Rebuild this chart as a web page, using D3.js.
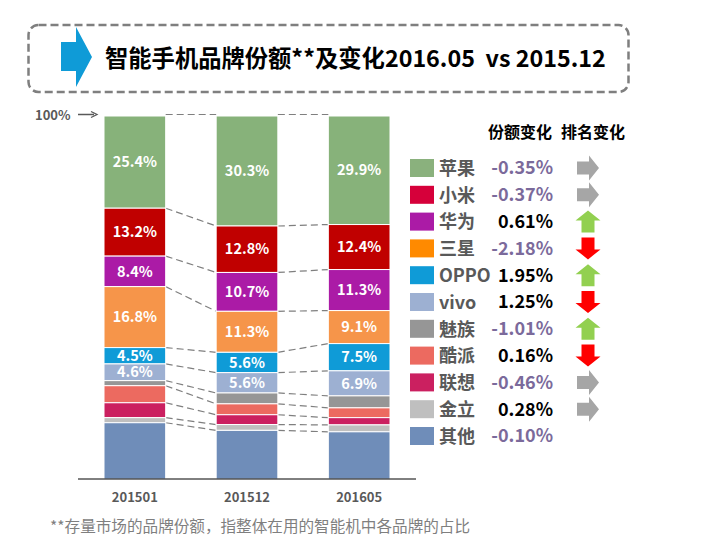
<!DOCTYPE html>
<html>
<head>
<meta charset="utf-8">
<script src="https://cdn.jsdelivr.net/npm/d3@7"></script>
<style>
  html, body { margin: 0; padding: 0; background: #fff; }
  text { font-family: "Noto Sans CJK SC", "Noto Sans", sans-serif; }
</style>
</head>
<body>
<div id="chart"></div>
<script>
// chart data
const periods = ["201501", "201512", "201605"]
const brands = ["苹果", "小米", "华为", "三星", "OPPO", "vivo", "魅族", "酷派", "联想", "金立", "其他"]
const share201501 = [25.4, 13.2, 8.4, 16.8, 4.5, 4.6, 1.4, 4.7, 4.1, 1.4, 15.5]
const share201512 = [30.3, 12.8, 10.7, 11.3, 5.6, 5.6, 3.0, 3.0, 2.7, 1.6, 13.4]
const share201605 = [29.9, 12.4, 11.3, 9.1, 7.5, 6.9, 3.3, 2.7, 2.0, 1.9, 13.0]
const labelledBrands = ["苹果", "小米", "华为", "三星", "OPPO", "vivo"]
const shareChange = ["-0.35%", "-0.37%", "0.61%", "-2.18%", "1.95%", "1.25%", "-1.01%", "0.16%", "-0.46%", "0.28%", "-0.10%"]
const rankChange = ["same", "same", "up", "down", "up", "down", "up", "down", "same", "same", null]

const title = "智能手机品牌份额**及变化2016.05  vs 2015.12"
const footnote = "**存量市场的品牌份额，指整体在用的智能机中各品牌的占比"

// colours (bars and legend swatches differ a little in the picture)
const barColors = ["#87B27A", "#C00000", "#AB1BA6", "#F6954A", "#0F9BD7", "#9DB0D2", "#969696", "#EC6A60", "#CB2060", "#BFBFBF", "#6F8DB9"]
const swatchColors = ["#8AB17D", "#D6003A", "#AB1BA6", "#FF8A00", "#0F9BD7", "#9DB0D2", "#969696", "#EC6A60", "#CB2060", "#BFBFBF", "#6F8DB9"]

const width = 708
const height = 555

const svg = d3.select("#chart")
  .append("svg")
  .attr("width", width)
  .attr("height", height)
  .style("display", "block")

// title box
svg.append("rect")
  .attr("x", 28.5)
  .attr("y", 25)
  .attr("width", 600)
  .attr("height", 67)
  .attr("rx", 10)
  .attr("fill", "none")
  .attr("stroke", "#7F7F7F")
  .attr("stroke-width", 2.5)
  .attr("stroke-dasharray", "8 4")

svg.append("path")
  .attr("d", "M61,42H76V27L92,57L76,87V71H61Z")
  .attr("fill", "#0F9BD7")

svg.append("text")
  .attr("x", 105)
  .attr("y", 67)
  .attr("font-size", 23.3)
  .attr("font-weight", "bold")
  .attr("fill", "#000")
  .attr("xml:space", "preserve")
  .style("white-space", "pre")
  .text(title)

// scales
const xScale = d3.scaleBand()
  .domain(periods)
  .range([104, 390])
  .paddingInner(0.45)

const yScale = d3.scaleLinear()
  .domain([0, 100])
  .range([479, 116])

// stack the three periods
const rows = periods.map((period, i) => {
  const row = {period}
  const values = [share201501, share201512, share201605][i]
  brands.forEach((b, j) => { row[b] = values[j] })
  return row
})

const series = d3.stack()
  .keys(brands)
  .order(d3.stackOrderReverse)(rows)

const color = d3.scaleOrdinal().domain(brands).range(barColors)

// connecting dashes between the bars
const connectors = svg.append("g")
  .attr("stroke", "#7F7F7F")
  .attr("stroke-width", 1.2)
  .attr("stroke-dasharray", "7 4")

series.forEach(s => {
  d3.pairs(s).forEach(([a, b]) => {
    connectors.append("line")
      .attr("x1", xScale(a.data.period) + xScale.bandwidth())
      .attr("x2", xScale(b.data.period))
      .attr("y1", yScale(a[1]) - (a[1] >= 99.9 ? 1.5 : 0))
      .attr("y2", yScale(b[1]) - (b[1] >= 99.9 ? 1.5 : 0))
  })
})

// bars
const groups = svg.append("g")
  .selectAll("g")
  .data(series)
  .join("g")
  .attr("fill", d => color(d.key))

groups.selectAll("rect")
  .data(d => d)
  .join("rect")
  .attr("x", d => xScale(d.data.period))
  .attr("y", d => yScale(d[1]))
  .attr("width", xScale.bandwidth())
  .attr("height", d => yScale(d[0]) - yScale(d[1]))
  .attr("stroke", "#fff")
  .attr("stroke-width", 1)

// value labels
groups.filter(d => labelledBrands.includes(d.key))
  .selectAll("text")
  .data(d => d.map(p => ({p, key: d.key})))
  .join("text")
  .attr("x", d => xScale(d.p.data.period) + xScale.bandwidth() / 2)
  .attr("y", d => yScale((d.p[0] + d.p[1]) / 2))
  .attr("dy", "0.36em")
  .attr("text-anchor", "middle")
  .attr("font-size", 14.5)
  .attr("font-weight", "bold")
  .attr("fill", "#fff")
  .text(d => d.p.data[d.key].toFixed(1) + "%")

// x axis
const xAxis = d3.axisBottom(xScale).tickSize(0).tickPadding(14)
const xAxisG = svg.append("g")
  .attr("transform", `translate(0, ${yScale(0)})`)
  .call(xAxis)
xAxisG.select(".domain").remove()
xAxisG.append("line")
  .attr("x1", 78)
  .attr("x2", 416)
  .attr("stroke", "#000")
  .attr("stroke-width", 1)
xAxisG.selectAll("text")
  .attr("font-family", null)
  .attr("font-size", 13)
  .attr("font-weight", "bold")
  .attr("fill", "#595959")

// 100% marker
svg.append("text")
  .attr("x", 35)
  .attr("y", yScale(100) + 4)
  .attr("font-size", 13)
  .attr("font-weight", "bold")
  .attr("fill", "#595959")
  .text("100%")

svg.append("path")
  .attr("d", "M78,114.5H94M91,111.5L97,114.5L91,117.5")
  .attr("fill", "none")
  .attr("stroke", "#595959")
  .attr("stroke-width", 1.3)

// legend table
const rowScale = d3.scalePoint()
  .domain(brands)
  .range([168, 436])

svg.append("text")
  .attr("x", 552)
  .attr("y", 138)
  .attr("text-anchor", "end")
  .attr("font-size", 16)
  .attr("font-weight", "bold")
  .text("份额变化")

svg.append("text")
  .attr("x", 625)
  .attr("y", 138)
  .attr("text-anchor", "end")
  .attr("font-size", 16)
  .attr("font-weight", "bold")
  .text("排名变化")

const legendRows = svg.append("g")
  .selectAll("g")
  .data(brands)
  .join("g")
  .attr("transform", d => `translate(0, ${rowScale(d)})`)

legendRows.append("rect")
  .attr("x", 410)
  .attr("y", -9)
  .attr("width", 24)
  .attr("height", 18)
  .attr("fill", (d, i) => swatchColors[i])

legendRows.append("text")
  .attr("x", 439)
  .attr("dy", "0.38em")
  .attr("font-size", 18)
  .attr("font-weight", "bold")
  .attr("fill", "#595959")
  .text(d => d)

legendRows.append("text")
  .attr("x", 553)
  .attr("dy", "0.36em")
  .attr("text-anchor", "end")
  .attr("font-size", 18)
  .attr("font-weight", "bold")
  .attr("fill", (d, i) => shareChange[i].startsWith("-") ? "#7B6A9B" : "#000")
  .text((d, i) => shareChange[i])

// rank arrows, drawn pointing right then rotated
const arrowColor = {same: "#A6A6A6", up: "#92D050", down: "#FF0000"}
const arrowAngle = {same: 0, up: -90, down: 90}

legendRows.filter((d, i) => rankChange[i])
  .append("path")
  .attr("d", "M-11,-6.5H1V-12.5L11,0L1,12.5V6.5H-11Z")
  .attr("transform", d => {
    const r = rankChange[brands.indexOf(d)]
    return `translate(588, 0) rotate(${arrowAngle[r]})`
  })
  .attr("fill", d => arrowColor[rankChange[brands.indexOf(d)]])

// footnote
svg.append("text")
  .attr("x", 50)
  .attr("y", 532)
  .attr("font-size", 15.6)
  .attr("fill", "#7F7F7F")
  .text(footnote)
</script>
</body>
</html>
